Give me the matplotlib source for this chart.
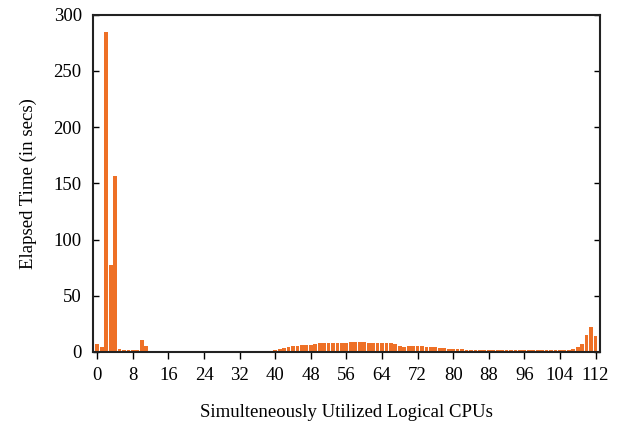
import numpy as np
import matplotlib.pyplot as plt

plt.rcParams['font.family'] = ['Liberation Serif', 'DejaVu Serif']

cpus = np.arange(113)
elapsed = ([7, 4.5, 285, 77, 157, 2.5, 1.8, 1.8, 1.8, 1.8, 11, 5.5]
           + [0.3] * 27
           + [1.2, 1.8, 2.5, 3.5, 4.5, 5, 5.5, 6, 6, 6.5, 7.5]
           + [8] * 7
           + [8.5, 9, 9, 8.5]
           + [8] * 6
           + [7, 5.5, 4.5, 5.5, 5.5, 5.5, 5, 4.5, 4, 4, 3.3, 3.3, 3, 2.5, 2.3, 2.3, 2]
           + [1.8] * 21
           + [1.8, 2.2, 3, 4, 7.5, 15, 22.5, 14.5])
xticks = list(range(0, 113, 8))
yticks = [0, 50, 100, 150, 200, 250, 300]

fig = plt.figure(figsize=(6.23, 4.29), dpi=100)
ax = fig.add_axes([0.149, 0.1795, 0.814, 0.786])
ax.bar(cpus, elapsed, width=0.85, color='#ee7026', linewidth=0, zorder=2)

ax.set_xlim(-1, 113)
ax.set_ylim(0, 300)
ax.set_xticks(xticks)
ax.set_yticks(yticks)
ax.tick_params(axis='x', direction='out', length=5, width=1, labelsize=13.5, pad=6)
ax.tick_params(axis='y', direction='in', length=4, width=1, labelsize=13.5, right=True, pad=8)
for s in ax.spines.values():
    s.set_linewidth(1.5)
    s.set_color('#222222')

ax.set_ylabel('Elapsed Time (in secs)', fontsize=13.5, labelpad=12)
ax.set_xlabel('Simulteneously Utilized Logical CPUs', fontsize=13.5, labelpad=14)

plt.savefig('out.png')
